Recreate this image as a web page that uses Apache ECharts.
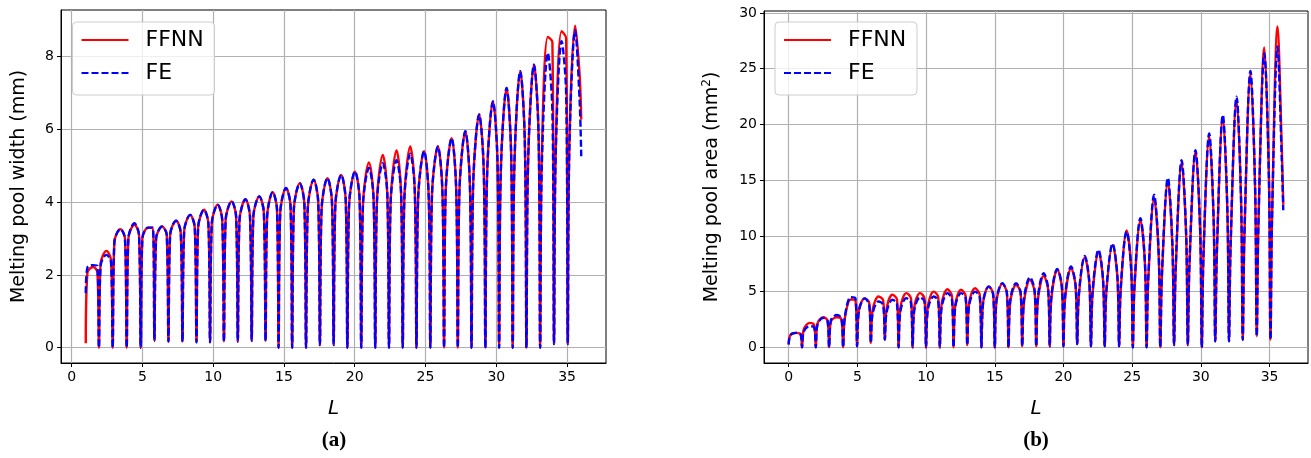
<!DOCTYPE html>
<html>
<head>
<meta charset="utf-8">
<script src="https://cdn.jsdelivr.net/npm/echarts@6/dist/echarts.min.js"></script>
<style>
  html, body { margin: 0; padding: 0; background: #fff; }
  #chart { width: 1311px; height: 458px; }
</style>
</head>
<body>
<div id="chart"></div>
<script>
// layer boundaries (dips), in L
const widthDips = [1.0, 1.93, 2.9, 3.89, 4.88, 5.85, 6.84, 7.83, 8.82, 9.78, 10.76, 11.74, 12.72, 13.7, 14.62, 15.58, 16.56, 17.54, 18.51, 19.48, 20.46, 21.45, 22.42, 23.39, 24.36, 25.34, 26.31, 27.28, 28.25, 29.23, 30.2, 31.16, 32.13, 33.1, 34.08, 35.05, 36.0];
// value at each boundary
const widthFfnnLow = [0.12, 0, 0, 0, 0, 0.19, 0.17, 0.17, 0.15, 0.15, 0.17, 0.17, 0.19, 0.19, 0, 0, 0, 0.07, 0.07, 0, 0, 0, 0, 0, 0, 0, 0, 0, 0, 0, 0, 0, 0, 0, 0.1, 0.1, 6.27];
const widthFeLow   = [1.5, 0, 0, 0, 0, 0.19, 0.17, 0.17, 0.15, 0.15, 0.17, 0.17, 0.19, 0.19, 0, 0, 0, 0.07, 0.07, 0, 0, 0, 0, 0, 0, 0, 0, 0, 0, 0, 0, 0, 0, 0, 0.1, 0.1, 5.26];
// per layer: value shortly after the dip, top of the hump, value shortly before the next dip
const widthFfnnRise = [2.05, 2.3, 2.9, 3.0, 3.0, 3.0, 3.1, 3.2, 3.3, 3.4, 3.5, 3.5, 3.6, 3.6, 3.7, 3.8, 3.8, 3.8, 3.9, 3.9, 3.9, 4.0, 4.0, 4.1, 4.1, 4.2, 4.3, 4.3, 4.5, 4.7, 4.8, 5.0, 5.1, 5.3, 5.4, 5.6];
const widthFfnnPeak = [2.22, 2.66, 3.26, 3.38, 3.3, 3.33, 3.49, 3.65, 3.79, 3.93, 4.02, 4.08, 4.16, 4.27, 4.39, 4.52, 4.62, 4.66, 4.75, 4.84, 5.09, 5.3, 5.42, 5.53, 5.4, 5.53, 5.76, 5.95, 6.41, 6.77, 7.14, 7.6, 7.78, 8.54, 8.7, 8.85];
const widthFfnnFall = [2.08, 2.4, 3.0, 3.1, 3.3, 3.1, 3.15, 3.3, 3.4, 3.5, 3.6, 3.6, 3.7, 3.8, 3.9, 3.95, 4.0, 4.0, 4.05, 4.1, 4.1, 4.2, 4.25, 4.3, 4.2, 4.3, 4.4, 4.5, 4.9, 5.15, 5.4, 5.7, 5.9, 8.4, 8.5, 7.5];
const widthFeRise = [2.2, 2.25, 2.9, 3.0, 3.0, 3.0, 3.1, 3.2, 3.3, 3.4, 3.5, 3.5, 3.6, 3.6, 3.7, 3.8, 3.8, 3.8, 3.9, 3.9, 3.9, 4.0, 4.0, 4.1, 4.1, 4.2, 4.3, 4.3, 4.5, 4.7, 4.8, 5.0, 5.1, 5.0, 5.3, 5.5];
const widthFePeak = [2.27, 2.55, 3.26, 3.42, 3.3, 3.33, 3.49, 3.65, 3.79, 3.93, 4.02, 4.08, 4.16, 4.27, 4.39, 4.52, 4.62, 4.66, 4.75, 4.84, 4.94, 5.07, 5.15, 5.33, 5.4, 5.53, 5.76, 5.95, 6.41, 6.77, 7.14, 7.6, 7.78, 8.1, 8.42, 8.72];
const widthFeFall = [2.25, 2.35, 3.0, 3.1, 3.3, 3.1, 3.15, 3.3, 3.4, 3.5, 3.6, 3.6, 3.7, 3.8, 3.9, 3.95, 4.0, 4.0, 4.05, 4.1, 4.1, 4.2, 4.25, 4.3, 4.2, 4.3, 4.4, 4.5, 4.9, 5.15, 5.4, 5.7, 5.9, 6.5, 7.0, 6.8];

// panel (b)
const areaDips = [0, 0.97, 1.97, 2.94, 3.96, 4.98, 5.98, 7.0, 8.0, 9.02, 10.0, 11.0, 12.0, 13.0, 14.03, 15.0, 16.0, 17.0, 18.02, 19.0, 20.0, 21.0, 22.0, 23.0, 24.05, 25.05, 26.05, 27.05, 28.05, 29.05, 30.07, 31.05, 32.05, 33.05, 34.07, 35.07, 36.0];
const areaFfnnLow = [0.25, 0, 0, 0, 0, 0.1, 0.4, 0.7, 0, 0, 0, 0, 0, 0.2, 0, 0, 0, 0.1, 0.1, 0.1, 0.1, 0.3, 0.1, 0.1, 0.1, 0, 0, 0, 0.2, 0.2, 0, 0.54, 0.54, 0.68, 1.0, 0.7, 12.8];
const areaFeLow   = [0.25, 0, 0, 0, 0, 0.1, 0.4, 0.7, 0, 0, 0, 0, 0, 0.2, 0, 0, 0, 0.1, 0.1, 0.1, 0.1, 0.3, 0.1, 0.1, 0.1, 0, 0, 0, 0.2, 0.2, 0, 0.54, 0.54, 0.68, 1.0, 0.7, 12.3];
const areaFfnnRise = [1.1, 1.6, 2.1, 2.3, 2.6, 3.3, 3.3, 3.4, 3.5, 3.6, 3.6, 3.8, 3.8, 3.9, 4.0, 4.1, 4.0, 4.0, 4.2, 4.4, 4.4, 4.6, 4.8, 5.0, 5.2, 5.4, 6.0, 6.5, 7.0, 7.4, 8.0, 8.6, 9.2, 10.0, 11.0, 11.5];
const areaFfnnPeak = [1.3, 2.2, 2.7, 2.7, 4.3, 4.4, 4.57, 4.72, 4.87, 4.87, 5.0, 5.22, 5.17, 5.3, 5.47, 5.7, 5.6, 6.06, 6.42, 6.97, 7.1, 8.1, 8.6, 9.2, 10.5, 11.4, 13.4, 14.9, 16.6, 17.6, 19.0, 20.7, 22.3, 24.6, 26.9, 28.8];
const areaFfnnFall = [1.2, 2.0, 2.4, 2.5, 4.2, 4.0, 4.2, 4.3, 4.4, 4.4, 4.5, 4.6, 4.6, 4.7, 4.8, 4.9, 4.9, 5.0, 5.2, 5.4, 5.5, 5.8, 6.0, 6.3, 7.0, 7.5, 8.3, 9.0, 10.0, 10.5, 11.3, 12.2, 13.0, 14.3, 15.5, 18.0];
const areaFeRise = [1.1, 1.4, 2.0, 2.4, 2.7, 3.2, 3.0, 3.1, 3.2, 3.3, 3.3, 3.5, 3.6, 3.7, 4.0, 4.2, 4.2, 4.3, 4.5, 4.6, 4.6, 4.8, 5.0, 5.2, 5.4, 5.6, 6.2, 6.7, 7.2, 7.6, 8.2, 8.8, 9.4, 10.2, 11.0, 11.5];
const areaFePeak = [1.3, 1.9, 2.65, 2.9, 4.5, 4.4, 4.12, 4.27, 4.42, 4.5, 4.57, 4.87, 4.87, 5.0, 5.47, 5.77, 5.77, 6.3, 6.66, 7.03, 7.26, 8.2, 8.75, 9.3, 10.4, 11.6, 13.7, 15.2, 16.8, 17.7, 19.2, 20.85, 22.5, 24.8, 26.4, 27.0];
const areaFeFall = [1.2, 1.8, 2.4, 2.6, 4.4, 3.8, 3.8, 3.9, 4.0, 4.1, 4.2, 4.3, 4.4, 4.5, 4.7, 4.9, 4.9, 5.1, 5.3, 5.5, 5.6, 5.9, 6.1, 6.4, 7.0, 7.6, 8.5, 9.2, 10.2, 10.6, 11.5, 12.4, 13.2, 14.5, 15.5, 17.0];

const xTicks = [0, 5, 10, 15, 20, 25, 30, 35];
const widthTicks = [0, 2, 4, 6, 8];
const areaTicks = [0, 5, 10, 15, 20, 25, 30];

// put the read values of each layer in order along L
function layerPoints(dips, low, rise, peak, fall) {
  const pts = [];
  for (let i = 0; i < peak.length; i++) {
    const a = dips[i], w = dips[i + 1] - dips[i];
    pts.push([a, low[i]]);
    pts.push([a + 0.12 * w, rise[i]]);
    pts.push([a + 0.55 * w, peak[i]]);
    pts.push([a + 0.88 * w, fall[i]]);
  }
  pts.push([dips[dips.length - 1], low[low.length - 1]]);
  return pts;
}

const FONT = 'DejaVu Sans';
const chart = echarts.init(document.getElementById('chart'), null, { renderer: 'canvas' });

function xAxisOf(gridIndex, min, max) {
  return {
    type: 'value', gridIndex: gridIndex, min: min, max: max,
    name: 'L', nameLocation: 'middle', nameGap: 36,
    nameTextStyle: { fontFamily: FONT, fontSize: 20, fontStyle: 'italic', color: '#000' },
    axisLine: { show: true, onZero: false, lineStyle: { color: '#000', width: 1 } },
    axisTick: { show: true, length: 4, customValues: xTicks, lineStyle: { color: '#000' } },
    axisLabel: { customValues: xTicks, fontFamily: FONT, fontSize: 14, color: '#000', margin: 7 },
    splitLine: { show: true, lineStyle: { color: '#b0b0b0', width: 1.2 } }
  };
}
function yAxisOf(gridIndex, min, max, ticks, name, gap) {
  return {
    type: 'value', gridIndex: gridIndex, min: min, max: max,
    name: name, nameLocation: 'middle', nameGap: gap, nameRotate: 90,
    nameTextStyle: {
      fontFamily: FONT, fontSize: 19, color: '#000',
      rich: { sup: { fontFamily: FONT, fontSize: 12, color: '#000', verticalAlign: 'top', padding: [0, 0, 10, 0] } }
    },
    axisLine: { show: true, onZero: false, lineStyle: { color: '#000', width: 1 } },
    axisTick: { show: true, length: 4, customValues: ticks, lineStyle: { color: '#000' } },
    axisLabel: { customValues: ticks, fontFamily: FONT, fontSize: 14, color: '#000', margin: 7 },
    splitLine: { show: true, lineStyle: { color: '#b0b0b0', width: 1.2 } }
  };
}
function lineSeries(name, axis, data, color, dashed) {
  return {
    name: name, type: 'line', xAxisIndex: axis, yAxisIndex: axis,
    data: data, showSymbol: false, symbol: 'none', smooth: 0.35,
    lineStyle: { color: color, width: 2.4, type: dashed ? [7, 3] : 'solid' },
    z: dashed ? 3 : 2
  };
}
function legendBox(x, y) {
  return [
    { type: 'rect', z: 100, shape: { x: x, y: y, width: 142, height: 73, r: 4 },
      style: { fill: 'rgba(255,255,255,0.8)', stroke: '#cccccc', lineWidth: 1 } },
    { type: 'line', z: 101, shape: { x1: x + 9, y1: y + 18, x2: x + 56, y2: y + 18 },
      style: { stroke: '#ff0000', lineWidth: 2.2 } },
    { type: 'line', z: 101, shape: { x1: x + 9, y1: y + 51, x2: x + 56, y2: y + 51 },
      style: { stroke: '#0000ff', lineWidth: 2.2, lineDash: [7, 3] } },
    { type: 'text', z: 101, x: x + 73, y: y + 18,
      style: { text: 'FFNN', font: '22px "DejaVu Sans"', fill: '#000', textVerticalAlign: 'middle' } },
    { type: 'text', z: 101, x: x + 73, y: y + 51,
      style: { text: 'FE', font: '22px "DejaVu Sans"', fill: '#000', textVerticalAlign: 'middle' } }
  ];
}

chart.setOption({
  animation: false,
  backgroundColor: '#fff',
  grid: [
    { left: 61, top: 10, width: 545, height: 353, show: true, borderColor: '#000', borderWidth: 1 },
    { left: 764, top: 11, width: 544, height: 352, show: true, borderColor: '#000', borderWidth: 1 }
  ],
  xAxis: [xAxisOf(0, -0.75, 37.75), xAxisOf(1, -1.8, 37.8)],
  yAxis: [
    yAxisOf(0, -0.42, 9.28, widthTicks, 'Melting pool width (mm)', 32),
    yAxisOf(1, -1.4, 30.18, areaTicks, 'Melting pool area (mm{sup|2})', 41)
  ],
  series: [
    lineSeries('FFNN', 0, layerPoints(widthDips, widthFfnnLow, widthFfnnRise, widthFfnnPeak, widthFfnnFall), '#ff0000', false),
    lineSeries('FE', 0, layerPoints(widthDips, widthFeLow, widthFeRise, widthFePeak, widthFeFall), '#0000ff', true),
    lineSeries('FFNN', 1, layerPoints(areaDips, areaFfnnLow, areaFfnnRise, areaFfnnPeak, areaFfnnFall), '#ff0000', false),
    lineSeries('FE', 1, layerPoints(areaDips, areaFeLow, areaFeRise, areaFePeak, areaFeFall), '#0000ff', true)
  ],
  graphic: legendBox(72.5, 22).concat(legendBox(775, 22)).concat([
    { type: 'text', x: 334, y: 441, style: { text: '(a)', font: 'bold 21px "Liberation Serif"', fill: '#000', textAlign: 'center', textVerticalAlign: 'middle' } },
    { type: 'text', x: 1036, y: 441, style: { text: '(b)', font: 'bold 21px "Liberation Serif"', fill: '#000', textAlign: 'center', textVerticalAlign: 'middle' } }
  ])
});
</script>
</body>
</html>
